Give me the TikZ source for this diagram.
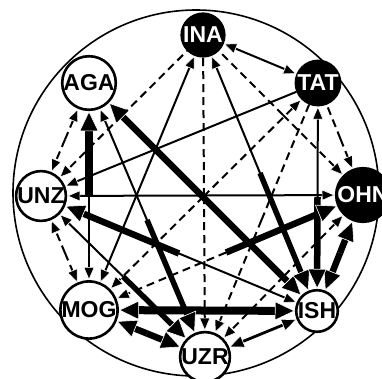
\documentclass[tikz,border=0pt]{standalone}
\usepackage{fontspec}
\setmainfont{Liberation Sans}
\usetikzlibrary{arrows.meta,calc}
\pgfdeclarelayer{bg}
\pgfsetlayers{bg,main}
\newcommand\halfs[4]{%
  \draw[#3] ($(#1)!0.5!(#2)$) -- (#1);
  \draw[#4] ($(#1)!0.5!(#2)$) -- (#2);}
\tikzset{
  nd/.style={circle, draw=black, line width=2.6pt, minimum size=41pt, inner sep=0pt,
    fill=white, text=black, font=\fontsize{23}{23}\selectfont\bfseries},
  bk/.style={nd, fill=black, text=white},
  ah/.style={-{Triangle[length=13pt,width=11pt,color=white,fill=black,line width=0.6pt]}},
  ahm/.style={-{Triangle[length=15pt,width=13pt,color=white,fill=black,line width=0.6pt]}},
  ahk/.style={-{Triangle[length=20pt,width=19pt,color=white,fill=black,line width=0.6pt]}},
  qt/.style={line width=2pt},
  qta/.style={qt, ah},
  qd/.style={line width=2pt, dash pattern=on 8pt off 5pt},
  qda/.style={qd, ah},
  qm/.style={line width=2.8pt, ahm},
  qk5/.style={line width=5.5pt, ahk},
  qk6/.style={line width=6.5pt, ahk},
  qk7/.style={line width=8pt, ahk},
}
\begin{document}
\begin{tikzpicture}[x=1pt,y=-1pt]
\useasboundingbox (0,0) rectangle (382,378);
\draw[line width=1.6pt] (196,193) circle[radius=183pt];
\node[nd] (A) at (89,83) {AGA};
\node[bk] (I) at (203,35) {INA};
\node[bk] (T) at (318,83) {TAT};
\node[bk] (O) at (363,195) {OHN};
\node[nd] (S) at (317,311) {ISH};
\node[nd] (Z) at (205,357) {UZR};
\node[nd] (M) at (89,310) {MOG};
\node[nd] (U) at (41,196) {UNZ};
\begin{pgfonlayer}{bg}
\halfs{S}{M}{qk7}{qk7}
\halfs{S}{A}{qk6}{qk6}
\halfs{M}{A}{qta}{qk7}
\halfs{Z}{M}{qk6}{qk6}
\halfs{O}{S}{qk6}{qk6}
\halfs{S}{U}{qta}{qk6}
\halfs{I}{S}{qta}{qk5}
\halfs{T}{S}{qta}{qk6}
\halfs{O}{M}{qk6}{qda}
\halfs{Z}{U}{qk5}{qta}
\halfs{Z}{A}{qk5}{qta}
\halfs{S}{Z}{qm}{qm}
\halfs{I}{T}{qta}{qta}
\halfs{I}{O}{qd}{qda}
\halfs{I}{Z}{qd}{qda}
\halfs{I}{M}{qta}{qta}
\halfs{I}{U}{qd}{qda}
\halfs{T}{O}{qd}{qda}
\halfs{T}{Z}{qd}{qda}
\halfs{T}{M}{qda}{qda}
\halfs{T}{U}{qt}{qta}
\halfs{O}{Z}{qda}{qda}
\halfs{O}{U}{qta}{qta}
\halfs{M}{U}{qda}{qda}
\halfs{U}{A}{qda}{qda}
\end{pgfonlayer}
\end{tikzpicture}
\end{document}
